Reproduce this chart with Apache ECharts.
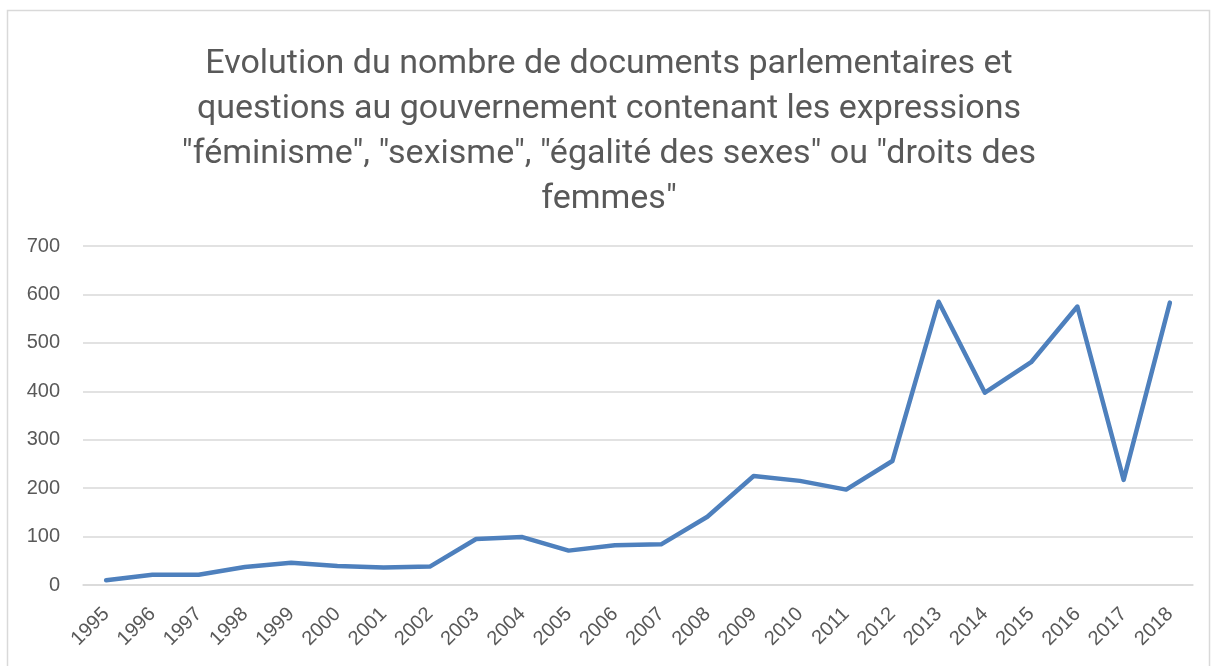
<!DOCTYPE html>
<html>
<head>
    <meta charset="utf-8">
    <title></title>
    <script src="https://cdn.jsdelivr.net/npm/echarts@6/dist/echarts.min.js"></script>
    <style>
        body { margin: 0; background: #fff; }
    </style>
</head>
<body>
<div id="main" style="width: 1218px;height:666px;"></div>
<script type="text/javascript">
var years = ['1995','1996','1997','1998','1999','2000','2001','2002','2003','2004','2005','2006',
             '2007','2008','2009','2010','2011','2012','2013','2014','2015','2016','2017','2018'];
var counts = [10, 21, 21, 37, 46, 39, 36, 38, 95, 99, 71, 82,
              84, 141, 225, 215, 197, 256, 585, 397, 460, 575, 217, 583];
var yTicks = [0, 100, 200, 300, 400, 500, 600, 700];
var titleText = 'Evolution du nombre de documents parlementaires et\n' +
    'questions au gouvernement contenant les expressions\n' +
    '"féminisme", "sexisme", "égalité des sexes" ou "droits des\n' +
    'femmes"';

var myChart = echarts.init(document.getElementById('main'));
myChart.setOption({
    animation: false,
    backgroundColor: '#fff',
    title: {
        text: titleText,
        left: 'center',
        top: 37,
        textStyle: {
            fontFamily: 'Roboto, sans-serif',
            fontSize: 34,
            fontWeight: 'normal',
            color: '#595959',
            lineHeight: 45
        }
    },
    graphic: [{
        type: 'rect',
        shape: { x: 7.5, y: 10.5, width: 1202, height: 670 },
        style: { fill: 'none', stroke: '#d9d9d9', lineWidth: 1.5 },
        silent: true
    }],
    grid: { left: 83, right: 25, top: 246, bottom: 81 },
    xAxis: {
        type: 'category',
        data: years,
        boundaryGap: true,
        axisLine: { lineStyle: { color: '#d9d9d9', width: 1.5 } },
        axisTick: { show: false },
        axisLabel: {
            rotate: 45,
            interval: 0,
            color: '#595959',
            fontSize: 20,
            fontFamily: 'Liberation Sans, sans-serif',
            margin: 26
        }
    },
    yAxis: {
        type: 'value',
        min: yTicks[0],
        max: yTicks[yTicks.length - 1],
        interval: 100,
        axisLine: { show: false },
        axisTick: { show: false },
        splitLine: { lineStyle: { color: '#d9d9d9', width: 1.5 } },
        axisLabel: {
            color: '#595959',
            fontSize: 20,
            fontFamily: 'Liberation Sans, sans-serif',
            margin: 23
        }
    },
    series: [{
        type: 'line',
        data: counts,
        symbol: 'none',
        lineStyle: { color: '#4e80bd', width: 4.5, cap: 'round', join: 'round' }
    }]
});
</script>
</body>
</html>
